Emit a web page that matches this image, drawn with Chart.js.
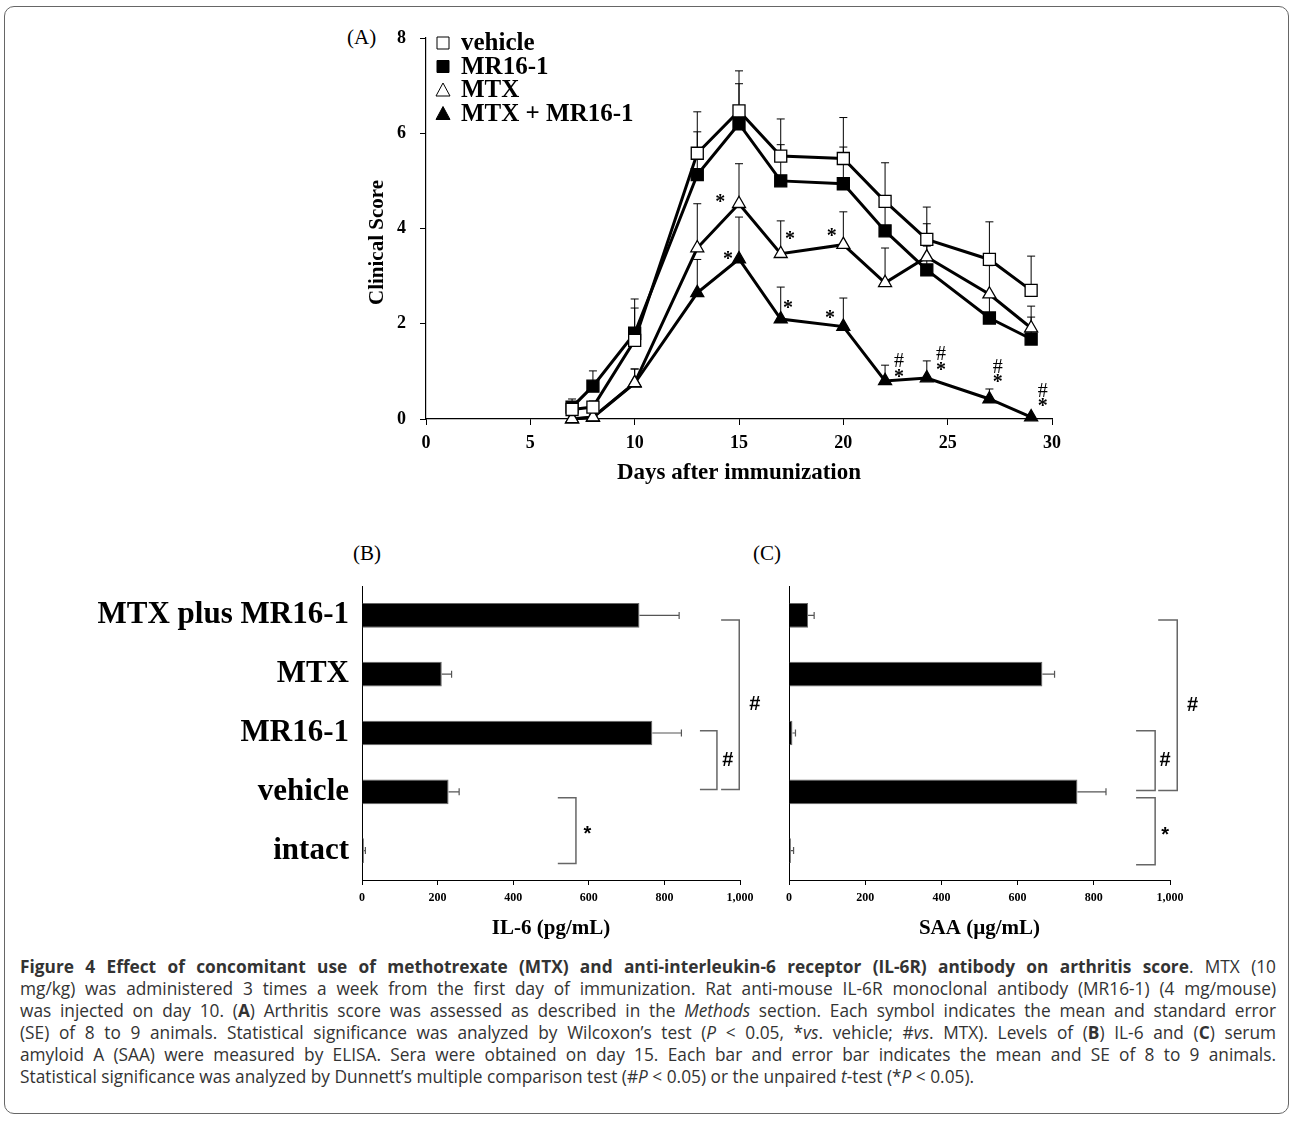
<!DOCTYPE html>
<html>
<head>
<meta charset="utf-8">
<script src="https://cdn.jsdelivr.net/npm/chart.js@4.4.1/dist/chart.umd.min.js"></script>
<style>
  body { margin: 0; background: #fff; width: 1292px; height: 1122px; position: relative; overflow: hidden; }
  .frame { position: absolute; left: 4px; top: 6px; width: 1283px; height: 1106px; border: 1px solid #666; border-radius: 10px; }
  canvas { position: absolute; }
  .panel { position: absolute; font-family: "Liberation Serif", serif; font-size: 21px; line-height: 24px; color: #000; }
  .cap { position: absolute; left: 20px; width: 1256px; font-family: "Open Sans", sans-serif; font-size: 17.3px; color: #333;
         text-align: justify; text-align-last: justify; line-height: 22px; }
  .cap.last { text-align-last: left; }
</style>
</head>
<body>
<div class="frame"></div>
<div class="panel" style="left:347px;top:25px;">(A)</div>
<div class="panel" style="left:353px;top:541px;">(B)</div>
<div class="panel" style="left:753px;top:541px;">(C)</div>

<canvas id="chartA" width="715" height="480" style="left:355px;top:20px;"></canvas>
<canvas id="chartB" width="700" height="390" style="left:90px;top:560px;"></canvas>
<canvas id="chartC" width="430" height="390" style="left:780px;top:560px;"></canvas>

<div class="cap" style="top:956px;"><b>Figure 4 Effect of concomitant use of methotrexate (MTX) and anti-interleukin-6 receptor (IL-6R) antibody on arthritis score</b>. MTX (10</div>
<div class="cap" style="top:978px;">mg/kg) was administered 3 times a week from the first day of immunization. Rat anti-mouse IL-6R monoclonal antibody (MR16-1) (4 mg/mouse)</div>
<div class="cap" style="top:1000px;">was injected on day 10. (<b>A</b>) Arthritis score was assessed as described in the <i>Methods</i> section. Each symbol indicates the mean and standard error</div>
<div class="cap" style="top:1022px;">(SE) of 8 to 9 animals. Statistical significance was analyzed by Wilcoxon’s test (<i>P</i> &lt; 0.05, *<i>vs</i>. vehicle; #<i>vs</i>. MTX). Levels of (<b>B</b>) IL-6 and (<b>C</b>) serum</div>
<div class="cap" style="top:1044px;">amyloid A (SAA) were measured by ELISA. Sera were obtained on day 15. Each bar and error bar indicates the mean and SE of 8 to 9 animals.</div>
<div class="cap last" style="top:1066px;">Statistical significance was analyzed by Dunnett’s multiple comparison test (#<i>P</i> &lt; 0.05) or the unpaired <i>t</i>-test (*<i>P</i> &lt; 0.05).</div>

<script>
// panel A: clinical score by day
var days = [7, 8, 10, 13, 15, 17, 20, 22, 24, 27, 29];
var vehicleScore = [0.2, 0.25, 1.65, 5.58, 6.47, 5.52, 5.47, 4.57, 3.77, 3.35, 2.7];
var vehicleSe = [0.15, 0.13, 0.68, 0.87, 0.84, 0.78, 0.86, 0.81, 0.68, 0.79, 0.72];
var mr16Score = [0.25, 0.69, 1.8, 5.13, 6.2, 5.0, 4.94, 3.95, 3.13, 2.12, 1.68];
var mr16Se = [0.17, 0.32, 0.72, 0.9, 0.84, 0.76, 0.77, 0.7, 0.5, 0.5, 0.46];
var mtxScore = [0, 0.04, 0.76, 3.59, 4.52, 3.47, 3.66, 2.86, 3.4, 2.62, 1.91];
var mtxSe = [0, 0.05, 0.29, 0.93, 0.84, 0.69, 0.69, 0.73, 0.7, 0.6, 0.46];
var comboScore = [0, 0.03, 0.75, 2.65, 3.36, 2.1, 1.94, 0.8, 0.86, 0.42, 0.04];
var comboSe = [0, 0.03, 0.3, 0.7, 0.88, 0.67, 0.6, 0.33, 0.36, 0.21, 0];
var yTicksA = [0, 2, 4, 6, 8];
var xTicksA = [0, 5, 10, 15, 20, 25, 30];

// significance marks on panel A (day, score)
var noteText = ['*', '*', '*', '*', '*', '*', '#', '*', '#', '*', '#', '*', '#', '*'];
var noteDay = [14.1, 14.47, 17.44, 19.45, 17.35, 19.36, 22.67, 22.67, 24.68, 24.68, 27.4, 27.4, 29.56, 29.56];
var noteScore = [4.64, 3.45, 3.87, 3.93, 2.42, 2.2, 1.2, 0.97, 1.34, 1.11, 1.07, 0.86, 0.57, 0.36];

// panels B and C
var groups = ['MTX plus MR16-1', 'MTX', 'MR16-1', 'vehicle', 'intact'];
var il6Mean = [734, 211, 768, 229, 5];
var il6Se = [105, 26, 77, 28, 4];
var saaMean = [50, 665, 9, 757, 5];
var saaSe = [16, 32, 8, 75, 7];
var xTicksBC = [0, 200, 400, 600, 800, 1000];

// brackets: category span, line value, arm value, label value, label
var il6Brackets = {
  from: [0.08, 1.96, 3.1], to: [2.96, 2.96, 4.22],
  at: [998, 939, 566], arm: [950, 894, 518], textAt: [1039, 968, 596], text: ['#', '#', '*']
};
var saaBrackets = {
  from: [0.08, 1.96, 3.1], to: [2.98, 2.98, 4.24],
  at: [1019, 961, 961], arm: [969, 911, 911], textAt: [1059, 987, 987], text: ['#', '#', '*']
};

var serifBold = function (size) { return { family: 'Liberation Serif', weight: 'bold', size: size }; };

// keep tick label padding from pushing the plot area down
function noEdgePadding(s) { s.paddingTop = 0; s.paddingBottom = 0; }

function lineSet(label, values, se, style, fill) {
  return {
    label: label,
    data: days.map(function (d, i) { return { x: d, y: values[i] }; }),
    se: se,
    borderColor: '#000',
    borderWidth: 3,
    tension: 0,
    pointStyle: style,
    pointRadius: style === 'rect' ? 8.5 : 7.5,
    pointBackgroundColor: fill,
    pointBorderColor: '#000',
    pointBorderWidth: 1.3,
    clip: false
  };
}

var errorBarsA = {
  id: 'errorBarsA',
  beforeDatasetsDraw: function (chart) {
    var ctx = chart.ctx, y = chart.scales.y, x = chart.scales.x;
    ctx.save();
    ctx.strokeStyle = '#000';
    ctx.lineWidth = 1;
    chart.data.datasets.forEach(function (ds) {
      ds.data.forEach(function (p, i) {
        if (!ds.se[i]) return;
        var px = x.getPixelForValue(p.x);
        var top = y.getPixelForValue(p.y + ds.se[i]);
        ctx.beginPath();
        ctx.moveTo(px, y.getPixelForValue(p.y));
        ctx.lineTo(px, top);
        ctx.moveTo(px - 4, top);
        ctx.lineTo(px + 4, top);
        ctx.stroke();
      });
    });
    ctx.restore();
  }
};

var notesA = {
  id: 'notesA',
  afterDraw: function (chart) {
    var ctx = chart.ctx, x = chart.scales.x, y = chart.scales.y, area = chart.chartArea;
    ctx.save();
    ctx.fillStyle = '#000';
    ctx.textAlign = 'center';
    ctx.textBaseline = 'middle';
    noteText.forEach(function (t, i) {
      ctx.font = t === '#' ? '20px "Liberation Serif"' : 'bold 20px "Liberation Serif"';
      ctx.fillText(t, x.getPixelForValue(noteDay[i]), y.getPixelForValue(noteScore[i]) + (t === '*' ? 5 : 0));
    });
    // y axis title, sitting a little below the middle as in the figure
    ctx.save();
    ctx.translate(23, (area.top + area.bottom) / 2 + 14);
    ctx.rotate(-Math.PI / 2);
    ctx.font = 'bold 21px "Liberation Serif"';
    ctx.fillText('Clinical Score', 0, 0);
    ctx.restore();
    // legend in the top-left corner of the plot
    ctx.textAlign = 'left';
    ctx.font = 'bold 25px "Liberation Serif"';
    chart.data.datasets.forEach(function (ds, i) {
      var cx = area.left + 17, cy = area.top + 5 + i * 23.5;
      ctx.beginPath();
      if (ds.pointStyle === 'rect') {
        ctx.rect(cx - 6, cy - 6, 12, 12);
      } else {
        ctx.moveTo(cx, cy - 7);
        ctx.lineTo(cx + 7, cy + 6);
        ctx.lineTo(cx - 7, cy + 6);
        ctx.closePath();
      }
      ctx.fillStyle = ds.pointBackgroundColor;
      ctx.fill();
      ctx.lineWidth = 1;
      ctx.strokeStyle = '#000';
      ctx.stroke();
      ctx.fillStyle = '#000';
      ctx.fillText(ds.label, area.left + 35, cy + 1);
    });
    ctx.restore();
  }
};

new Chart(document.getElementById('chartA'), {
  type: 'line',
  data: {
    datasets: [
      lineSet('vehicle', vehicleScore, vehicleSe, 'rect', '#fff'),
      lineSet('MR16-1', mr16Score, mr16Se, 'rect', '#000'),
      lineSet('MTX', mtxScore, mtxSe, 'triangle', '#fff'),
      lineSet('MTX + MR16-1', comboScore, comboSe, 'triangle', '#000')
    ]
  },
  options: {
    responsive: false,
    animation: false,
    layout: { padding: { top: 18, right: 18, left: 0, bottom: 0 }, autoPadding: false },
    plugins: { legend: { display: false }, tooltip: { enabled: false } },
    scales: {
      x: {
        type: 'linear', min: 0, max: 30,
        afterBuildTicks: function (s) { s.ticks = xTicksA.map(function (v) { return { value: v }; }); },
        afterFit: function (s) { s.height = 81; },
        ticks: { color: '#000', font: serifBold(18), padding: 8, maxRotation: 0 },
        grid: { drawOnChartArea: false, tickLength: 6, color: '#000' },
        border: { color: '#000', width: 1.2 },
        title: { display: true, text: 'Days after immunization', color: '#000', font: serifBold(23), padding: { top: 0, bottom: 13 } }
      },
      y: {
        type: 'linear', min: 0, max: 8,
        afterBuildTicks: function (s) { s.ticks = yTicksA.map(function (v) { return { value: v }; }); },
        afterFit: function (s) { s.width = 71; noEdgePadding(s); },
        ticks: { color: '#000', font: serifBold(18), padding: 14 },
        grid: { drawOnChartArea: false, tickLength: 6, color: '#000' },
        border: { color: '#000', width: 1.2 }
      }
    }
  },
  plugins: [errorBarsA, notesA]
});

function barPlugins(se, br) {
  return {
    id: 'barExtras',
    afterDatasetsDraw: function (chart) {
      var ctx = chart.ctx, x = chart.scales.x, y = chart.scales.y;
      var meta = chart.getDatasetMeta(0);
      var values = chart.data.datasets[0].data;
      ctx.save();
      ctx.strokeStyle = '#555';
      ctx.lineWidth = 1.2;
      meta.data.forEach(function (bar, i) {
        var end = x.getPixelForValue(values[i] + se[i]);
        ctx.beginPath();
        ctx.moveTo(x.getPixelForValue(values[i]), bar.y);
        ctx.lineTo(end, bar.y);
        ctx.moveTo(end, bar.y - 3.5);
        ctx.lineTo(end, bar.y + 3.5);
        ctx.stroke();
      });
      ctx.strokeStyle = '#666';
      ctx.lineWidth = 1.5;
      ctx.fillStyle = '#000';
      ctx.font = 'bold 20px "Liberation Sans"';
      ctx.textAlign = 'center';
      ctx.textBaseline = 'middle';
      br.text.forEach(function (t, i) {
        var bx = x.getPixelForValue(br.at[i]), ax = x.getPixelForValue(br.arm[i]);
        var y1 = y.getPixelForValue(br.from[i]), y2 = y.getPixelForValue(br.to[i]);
        ctx.beginPath();
        ctx.moveTo(ax, y1);
        ctx.lineTo(bx, y1);
        ctx.lineTo(bx, y2);
        ctx.lineTo(ax, y2);
        ctx.stroke();
        ctx.fillText(t, x.getPixelForValue(br.textAt[i]), (y1 + y2) / 2 + (t === '*' ? 4 : 0));
      });
      ctx.restore();
    }
  };
}

function barChart(id, values, se, br, title, yWidth, padRight, showLabels) {
  new Chart(document.getElementById(id), {
    type: 'bar',
    data: {
      labels: groups,
      datasets: [{
        data: values,
        backgroundColor: '#000',
        borderColor: '#666',
        borderWidth: 1,
        categoryPercentage: 1,
        barPercentage: 0.42
      }]
    },
    options: {
      indexAxis: 'y',
      responsive: false,
      animation: false,
      layout: { padding: { top: 26, right: padRight, left: 0, bottom: 0 }, autoPadding: false },
      plugins: { legend: { display: false }, tooltip: { enabled: false } },
      scales: {
        x: {
          type: 'linear', min: 0, max: 1000,
          afterBuildTicks: function (s) { s.ticks = xTicksBC.map(function (v) { return { value: v }; }); },
          afterFit: function (s) { s.height = 70; },
          ticks: {
            color: '#000', font: serifBold(12), padding: 6, maxRotation: 0,
            callback: function (v) { return v.toLocaleString('en-US'); }
          },
          grid: { drawOnChartArea: false, tickLength: 5, color: '#000' },
          border: { color: '#000', width: 1 },
          title: { display: true, text: title, color: '#000', font: serifBold(21), padding: { top: 0, bottom: 9 } }
        },
        y: {
          type: 'category',
          afterFit: function (s) { s.width = yWidth; noEdgePadding(s); },
          ticks: { display: showLabels, color: '#000', font: serifBold(31), padding: 13 },
          grid: { display: false, drawTicks: false },
          border: { color: '#000', width: 1 }
        }
      }
    },
    plugins: [barPlugins(se, br)]
  });
}

barChart('chartB', il6Mean, il6Se, il6Brackets, 'IL-6 (pg/mL)', 272, 50, true);
barChart('chartC', saaMean, saaSe, saaBrackets, 'SAA (µg/mL)', 8, 40, false);
</script>
</body>
</html>
